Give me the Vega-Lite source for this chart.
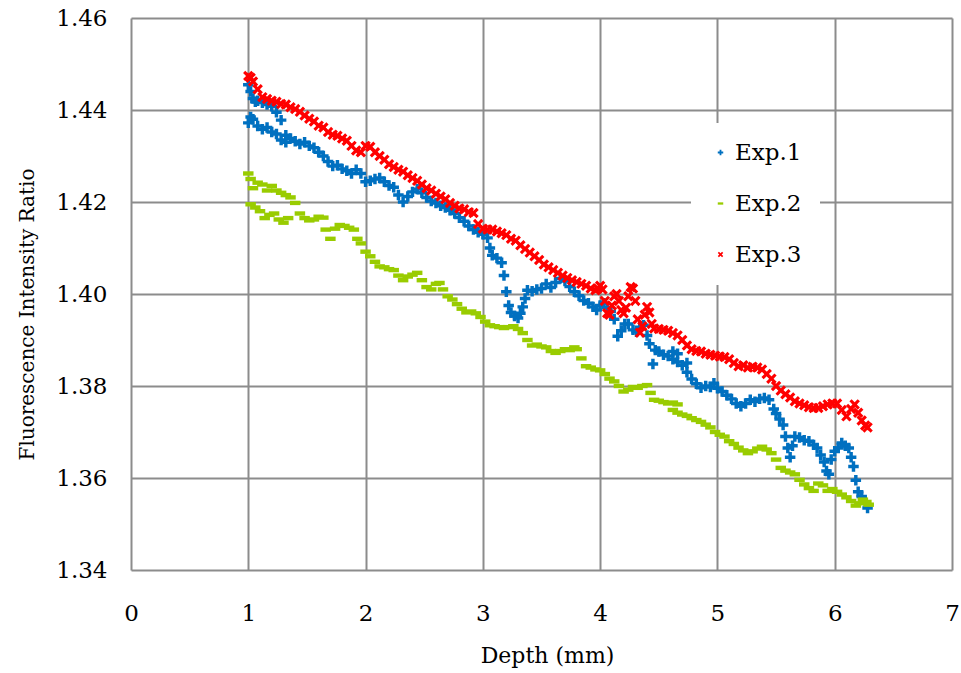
{
"$schema": "https://vega.github.io/schema/vega-lite/v6.json",
"width": 821, "height": 552,
"autosize": {"type": "none"},
"padding": {"left": 131, "top": 18, "right": 9, "bottom": 103},
"background": "white",
"config": {"view": {"stroke": null}, "font": "DejaVu Serif"},
"data": {"values": [
{"s":"Exp.1","x":1.00,"y":1.4455},{"s":"Exp.1","x":1.00,"y":1.4372},{"s":"Exp.1","x":1.02,"y":1.4440},{"s":"Exp.1","x":1.02,"y":1.4385},{"s":"Exp.1","x":1.04,"y":1.4425},{"s":"Exp.1","x":1.04,"y":1.4380},{"s":"Exp.1","x":1.06,"y":1.4418},{"s":"Exp.1","x":1.08,"y":1.4365},{"s":"Exp.1","x":1.08,"y":1.4420},{"s":"Exp.1","x":1.12,"y":1.4416},{"s":"Exp.1","x":1.12,"y":1.4358},{"s":"Exp.1","x":1.16,"y":1.4412},{"s":"Exp.1","x":1.16,"y":1.4362},{"s":"Exp.1","x":1.20,"y":1.4408},{"s":"Exp.1","x":1.20,"y":1.4352},{"s":"Exp.1","x":1.24,"y":1.4395},{"s":"Exp.1","x":1.24,"y":1.4348},{"s":"Exp.1","x":1.28,"y":1.4378},{"s":"Exp.1","x":1.28,"y":1.4335},{"s":"Exp.1","x":1.32,"y":1.4345},{"s":"Exp.1","x":1.32,"y":1.4330},{"s":"Exp.1","x":1.36,"y":1.4338},{"s":"Exp.1","x":1.40,"y":1.4332},{"s":"Exp.1","x":1.44,"y":1.4326},{"s":"Exp.1","x":1.48,"y":1.4330},{"s":"Exp.1","x":1.52,"y":1.4322},{"s":"Exp.1","x":1.56,"y":1.4318},{"s":"Exp.1","x":1.60,"y":1.4308},{"s":"Exp.1","x":1.64,"y":1.4300},{"s":"Exp.1","x":1.68,"y":1.4288},{"s":"Exp.1","x":1.72,"y":1.4278},{"s":"Exp.1","x":1.76,"y":1.4280},{"s":"Exp.1","x":1.80,"y":1.4272},{"s":"Exp.1","x":1.84,"y":1.4268},{"s":"Exp.1","x":1.88,"y":1.4262},{"s":"Exp.1","x":1.92,"y":1.4270},{"s":"Exp.1","x":1.96,"y":1.4262},{"s":"Exp.1","x":2.00,"y":1.4244},{"s":"Exp.1","x":2.04,"y":1.4246},{"s":"Exp.1","x":2.08,"y":1.4250},{"s":"Exp.1","x":2.12,"y":1.4252},{"s":"Exp.1","x":2.16,"y":1.4244},{"s":"Exp.1","x":2.20,"y":1.4236},{"s":"Exp.1","x":2.24,"y":1.4232},{"s":"Exp.1","x":2.28,"y":1.4215},{"s":"Exp.1","x":2.32,"y":1.4200},{"s":"Exp.1","x":2.36,"y":1.4212},{"s":"Exp.1","x":2.40,"y":1.4222},{"s":"Exp.1","x":2.44,"y":1.4228},{"s":"Exp.1","x":2.48,"y":1.4220},{"s":"Exp.1","x":2.52,"y":1.4210},{"s":"Exp.1","x":2.56,"y":1.4202},{"s":"Exp.1","x":2.60,"y":1.4198},{"s":"Exp.1","x":2.64,"y":1.4192},{"s":"Exp.1","x":2.68,"y":1.4188},{"s":"Exp.1","x":2.72,"y":1.4182},{"s":"Exp.1","x":2.76,"y":1.4175},{"s":"Exp.1","x":2.80,"y":1.4166},{"s":"Exp.1","x":2.84,"y":1.4158},{"s":"Exp.1","x":2.88,"y":1.4148},{"s":"Exp.1","x":2.92,"y":1.4140},{"s":"Exp.1","x":2.96,"y":1.4134},{"s":"Exp.1","x":3.00,"y":1.4130},{"s":"Exp.1","x":3.04,"y":1.4122},{"s":"Exp.1","x":3.06,"y":1.4100},{"s":"Exp.1","x":3.08,"y":1.4084},{"s":"Exp.1","x":3.12,"y":1.4078},{"s":"Exp.1","x":3.16,"y":1.4068},{"s":"Exp.1","x":3.18,"y":1.4040},{"s":"Exp.1","x":3.20,"y":1.4005},{"s":"Exp.1","x":3.22,"y":1.3975},{"s":"Exp.1","x":3.24,"y":1.3960},{"s":"Exp.1","x":3.27,"y":1.3952},{"s":"Exp.1","x":3.30,"y":1.3948},{"s":"Exp.1","x":3.32,"y":1.3958},{"s":"Exp.1","x":3.34,"y":1.3972},{"s":"Exp.1","x":3.36,"y":1.3990},{"s":"Exp.1","x":3.38,"y":1.4008},{"s":"Exp.1","x":3.42,"y":1.4006},{"s":"Exp.1","x":3.46,"y":1.4010},{"s":"Exp.1","x":3.50,"y":1.4012},{"s":"Exp.1","x":3.54,"y":1.4022},{"s":"Exp.1","x":3.58,"y":1.4014},{"s":"Exp.1","x":3.62,"y":1.4025},{"s":"Exp.1","x":3.66,"y":1.4034},{"s":"Exp.1","x":3.70,"y":1.4028},{"s":"Exp.1","x":3.74,"y":1.4016},{"s":"Exp.1","x":3.78,"y":1.4005},{"s":"Exp.1","x":3.82,"y":1.3996},{"s":"Exp.1","x":3.86,"y":1.3986},{"s":"Exp.1","x":3.90,"y":1.3980},{"s":"Exp.1","x":3.94,"y":1.3972},{"s":"Exp.1","x":3.97,"y":1.3965},{"s":"Exp.1","x":4.00,"y":1.3975},{"s":"Exp.1","x":4.03,"y":1.3980},{"s":"Exp.1","x":4.06,"y":1.3970},{"s":"Exp.1","x":4.09,"y":1.3962},{"s":"Exp.1","x":4.12,"y":1.3945},{"s":"Exp.1","x":4.15,"y":1.3908},{"s":"Exp.1","x":4.18,"y":1.3920},{"s":"Exp.1","x":4.21,"y":1.3935},{"s":"Exp.1","x":4.24,"y":1.3935},{"s":"Exp.1","x":4.28,"y":1.3922},{"s":"Exp.1","x":4.31,"y":1.3918},{"s":"Exp.1","x":4.34,"y":1.3928},{"s":"Exp.1","x":4.37,"y":1.3932},{"s":"Exp.1","x":4.40,"y":1.3910},{"s":"Exp.1","x":4.42,"y":1.3892},{"s":"Exp.1","x":4.45,"y":1.3848},{"s":"Exp.1","x":4.47,"y":1.3878},{"s":"Exp.1","x":4.50,"y":1.3875},{"s":"Exp.1","x":4.54,"y":1.3868},{"s":"Exp.1","x":4.58,"y":1.3865},{"s":"Exp.1","x":4.62,"y":1.3858},{"s":"Exp.1","x":4.62,"y":1.3875},{"s":"Exp.1","x":4.66,"y":1.3852},{"s":"Exp.1","x":4.66,"y":1.3870},{"s":"Exp.1","x":4.70,"y":1.3845},{"s":"Exp.1","x":4.74,"y":1.3830},{"s":"Exp.1","x":4.74,"y":1.3850},{"s":"Exp.1","x":4.78,"y":1.3815},{"s":"Exp.1","x":4.82,"y":1.3805},{"s":"Exp.1","x":4.86,"y":1.3796},{"s":"Exp.1","x":4.90,"y":1.3800},{"s":"Exp.1","x":4.94,"y":1.3798},{"s":"Exp.1","x":4.97,"y":1.3806},{"s":"Exp.1","x":5.00,"y":1.3795},{"s":"Exp.1","x":5.04,"y":1.3788},{"s":"Exp.1","x":5.08,"y":1.3780},{"s":"Exp.1","x":5.12,"y":1.3772},{"s":"Exp.1","x":5.16,"y":1.3762},{"s":"Exp.1","x":5.20,"y":1.3756},{"s":"Exp.1","x":5.24,"y":1.3762},{"s":"Exp.1","x":5.28,"y":1.3770},{"s":"Exp.1","x":5.32,"y":1.3766},{"s":"Exp.1","x":5.36,"y":1.3772},{"s":"Exp.1","x":5.40,"y":1.3774},{"s":"Exp.1","x":5.44,"y":1.3770},{"s":"Exp.1","x":5.48,"y":1.3750},{"s":"Exp.1","x":5.50,"y":1.3740},{"s":"Exp.1","x":5.53,"y":1.3728},{"s":"Exp.1","x":5.56,"y":1.3715},{"s":"Exp.1","x":5.58,"y":1.3690},{"s":"Exp.1","x":5.60,"y":1.3665},{"s":"Exp.1","x":5.62,"y":1.3645},{"s":"Exp.1","x":5.64,"y":1.3670},{"s":"Exp.1","x":5.66,"y":1.3690},{"s":"Exp.1","x":5.70,"y":1.3688},{"s":"Exp.1","x":5.74,"y":1.3682},{"s":"Exp.1","x":5.78,"y":1.3680},{"s":"Exp.1","x":5.82,"y":1.3672},{"s":"Exp.1","x":5.85,"y":1.3665},{"s":"Exp.1","x":5.88,"y":1.3650},{"s":"Exp.1","x":5.91,"y":1.3635},{"s":"Exp.1","x":5.93,"y":1.3615},{"s":"Exp.1","x":5.95,"y":1.3608},{"s":"Exp.1","x":5.97,"y":1.3640},{"s":"Exp.1","x":6.00,"y":1.3658},{"s":"Exp.1","x":6.03,"y":1.3665},{"s":"Exp.1","x":6.06,"y":1.3676},{"s":"Exp.1","x":6.09,"y":1.3670},{"s":"Exp.1","x":6.12,"y":1.3665},{"s":"Exp.1","x":6.14,"y":1.3645},{"s":"Exp.1","x":6.16,"y":1.3625},{"s":"Exp.1","x":6.18,"y":1.3595},{"s":"Exp.1","x":6.20,"y":1.3570},{"s":"Exp.1","x":6.23,"y":1.3560},{"s":"Exp.1","x":6.26,"y":1.3548},{"s":"Exp.1","x":6.28,"y":1.3535},
{"s":"Exp.2","x":1.00,"y":1.4262},{"s":"Exp.2","x":1.02,"y":1.4250},{"s":"Exp.2","x":1.02,"y":1.4195},{"s":"Exp.2","x":1.04,"y":1.4230},{"s":"Exp.2","x":1.06,"y":1.4188},{"s":"Exp.2","x":1.08,"y":1.4242},{"s":"Exp.2","x":1.10,"y":1.4180},{"s":"Exp.2","x":1.12,"y":1.4238},{"s":"Exp.2","x":1.14,"y":1.4165},{"s":"Exp.2","x":1.16,"y":1.4225},{"s":"Exp.2","x":1.18,"y":1.4172},{"s":"Exp.2","x":1.20,"y":1.4235},{"s":"Exp.2","x":1.22,"y":1.4175},{"s":"Exp.2","x":1.24,"y":1.4225},{"s":"Exp.2","x":1.26,"y":1.4162},{"s":"Exp.2","x":1.28,"y":1.4220},{"s":"Exp.2","x":1.30,"y":1.4155},{"s":"Exp.2","x":1.32,"y":1.4215},{"s":"Exp.2","x":1.34,"y":1.4165},{"s":"Exp.2","x":1.36,"y":1.4210},{"s":"Exp.2","x":1.40,"y":1.4198},{"s":"Exp.2","x":1.44,"y":1.4175},{"s":"Exp.2","x":1.48,"y":1.4165},{"s":"Exp.2","x":1.52,"y":1.4160},{"s":"Exp.2","x":1.56,"y":1.4162},{"s":"Exp.2","x":1.60,"y":1.4168},{"s":"Exp.2","x":1.64,"y":1.4166},{"s":"Exp.2","x":1.66,"y":1.4140},{"s":"Exp.2","x":1.70,"y":1.4120},{"s":"Exp.2","x":1.74,"y":1.4142},{"s":"Exp.2","x":1.78,"y":1.4150},{"s":"Exp.2","x":1.82,"y":1.4148},{"s":"Exp.2","x":1.86,"y":1.4144},{"s":"Exp.2","x":1.90,"y":1.4140},{"s":"Exp.2","x":1.93,"y":1.4120},{"s":"Exp.2","x":1.96,"y":1.4110},{"s":"Exp.2","x":2.00,"y":1.4092},{"s":"Exp.2","x":2.04,"y":1.4082},{"s":"Exp.2","x":2.08,"y":1.4070},{"s":"Exp.2","x":2.12,"y":1.4060},{"s":"Exp.2","x":2.16,"y":1.4058},{"s":"Exp.2","x":2.20,"y":1.4054},{"s":"Exp.2","x":2.24,"y":1.4052},{"s":"Exp.2","x":2.28,"y":1.4040},{"s":"Exp.2","x":2.32,"y":1.4030},{"s":"Exp.2","x":2.36,"y":1.4038},{"s":"Exp.2","x":2.40,"y":1.4042},{"s":"Exp.2","x":2.44,"y":1.4046},{"s":"Exp.2","x":2.48,"y":1.4030},{"s":"Exp.2","x":2.52,"y":1.4015},{"s":"Exp.2","x":2.56,"y":1.4010},{"s":"Exp.2","x":2.60,"y":1.4022},{"s":"Exp.2","x":2.63,"y":1.4024},{"s":"Exp.2","x":2.66,"y":1.4010},{"s":"Exp.2","x":2.70,"y":1.3995},{"s":"Exp.2","x":2.74,"y":1.3988},{"s":"Exp.2","x":2.78,"y":1.3978},{"s":"Exp.2","x":2.82,"y":1.3968},{"s":"Exp.2","x":2.86,"y":1.3960},{"s":"Exp.2","x":2.90,"y":1.3962},{"s":"Exp.2","x":2.94,"y":1.3958},{"s":"Exp.2","x":2.98,"y":1.3950},{"s":"Exp.2","x":3.02,"y":1.3940},{"s":"Exp.2","x":3.06,"y":1.3932},{"s":"Exp.2","x":3.10,"y":1.3930},{"s":"Exp.2","x":3.14,"y":1.3928},{"s":"Exp.2","x":3.18,"y":1.3926},{"s":"Exp.2","x":3.22,"y":1.3928},{"s":"Exp.2","x":3.26,"y":1.3930},{"s":"Exp.2","x":3.30,"y":1.3924},{"s":"Exp.2","x":3.34,"y":1.3915},{"s":"Exp.2","x":3.38,"y":1.3900},{"s":"Exp.2","x":3.42,"y":1.3888},{"s":"Exp.2","x":3.46,"y":1.3890},{"s":"Exp.2","x":3.50,"y":1.3886},{"s":"Exp.2","x":3.54,"y":1.3884},{"s":"Exp.2","x":3.58,"y":1.3876},{"s":"Exp.2","x":3.62,"y":1.3872},{"s":"Exp.2","x":3.66,"y":1.3876},{"s":"Exp.2","x":3.70,"y":1.3880},{"s":"Exp.2","x":3.74,"y":1.3878},{"s":"Exp.2","x":3.78,"y":1.3884},{"s":"Exp.2","x":3.80,"y":1.3880},{"s":"Exp.2","x":3.84,"y":1.3860},{"s":"Exp.2","x":3.88,"y":1.3843},{"s":"Exp.2","x":3.92,"y":1.3840},{"s":"Exp.2","x":3.96,"y":1.3836},{"s":"Exp.2","x":4.00,"y":1.3834},{"s":"Exp.2","x":4.04,"y":1.3826},{"s":"Exp.2","x":4.08,"y":1.3816},{"s":"Exp.2","x":4.12,"y":1.3810},{"s":"Exp.2","x":4.16,"y":1.3800},{"s":"Exp.2","x":4.20,"y":1.3788},{"s":"Exp.2","x":4.24,"y":1.3792},{"s":"Exp.2","x":4.28,"y":1.3798},{"s":"Exp.2","x":4.32,"y":1.3796},{"s":"Exp.2","x":4.36,"y":1.3800},{"s":"Exp.2","x":4.40,"y":1.3802},{"s":"Exp.2","x":4.43,"y":1.3785},{"s":"Exp.2","x":4.46,"y":1.3770},{"s":"Exp.2","x":4.50,"y":1.3768},{"s":"Exp.2","x":4.54,"y":1.3765},{"s":"Exp.2","x":4.58,"y":1.3762},{"s":"Exp.2","x":4.62,"y":1.3764},{"s":"Exp.2","x":4.62,"y":1.3748},{"s":"Exp.2","x":4.66,"y":1.3760},{"s":"Exp.2","x":4.66,"y":1.3742},{"s":"Exp.2","x":4.70,"y":1.3738},{"s":"Exp.2","x":4.74,"y":1.3735},{"s":"Exp.2","x":4.78,"y":1.3730},{"s":"Exp.2","x":4.82,"y":1.3726},{"s":"Exp.2","x":4.86,"y":1.3722},{"s":"Exp.2","x":4.90,"y":1.3716},{"s":"Exp.2","x":4.94,"y":1.3710},{"s":"Exp.2","x":4.98,"y":1.3700},{"s":"Exp.2","x":5.02,"y":1.3694},{"s":"Exp.2","x":5.06,"y":1.3690},{"s":"Exp.2","x":5.10,"y":1.3680},{"s":"Exp.2","x":5.14,"y":1.3674},{"s":"Exp.2","x":5.18,"y":1.3666},{"s":"Exp.2","x":5.22,"y":1.3660},{"s":"Exp.2","x":5.26,"y":1.3654},{"s":"Exp.2","x":5.30,"y":1.3658},{"s":"Exp.2","x":5.34,"y":1.3664},{"s":"Exp.2","x":5.38,"y":1.3668},{"s":"Exp.2","x":5.42,"y":1.3662},{"s":"Exp.2","x":5.46,"y":1.3654},{"s":"Exp.2","x":5.50,"y":1.3640},{"s":"Exp.2","x":5.54,"y":1.3622},{"s":"Exp.2","x":5.58,"y":1.3616},{"s":"Exp.2","x":5.62,"y":1.3612},{"s":"Exp.2","x":5.66,"y":1.3608},{"s":"Exp.2","x":5.70,"y":1.3596},{"s":"Exp.2","x":5.74,"y":1.3586},{"s":"Exp.2","x":5.78,"y":1.3578},{"s":"Exp.2","x":5.82,"y":1.3572},{"s":"Exp.2","x":5.86,"y":1.3588},{"s":"Exp.2","x":5.90,"y":1.3584},{"s":"Exp.2","x":5.94,"y":1.3572},{"s":"Exp.2","x":5.98,"y":1.3576},{"s":"Exp.2","x":6.02,"y":1.3570},{"s":"Exp.2","x":6.06,"y":1.3564},{"s":"Exp.2","x":6.10,"y":1.3558},{"s":"Exp.2","x":6.14,"y":1.3550},{"s":"Exp.2","x":6.18,"y":1.3540},{"s":"Exp.2","x":6.21,"y":1.3545},{"s":"Exp.2","x":6.24,"y":1.3553},{"s":"Exp.2","x":6.27,"y":1.3548},{"s":"Exp.2","x":6.29,"y":1.3542},
{"s":"Exp.3","x":1.00,"y":1.4474},{"s":"Exp.3","x":1.02,"y":1.4470},{"s":"Exp.3","x":1.04,"y":1.4462},{"s":"Exp.3","x":1.08,"y":1.4445},{"s":"Exp.3","x":1.12,"y":1.4428},{"s":"Exp.3","x":1.16,"y":1.4424},{"s":"Exp.3","x":1.20,"y":1.4420},{"s":"Exp.3","x":1.24,"y":1.4418},{"s":"Exp.3","x":1.28,"y":1.4413},{"s":"Exp.3","x":1.32,"y":1.4412},{"s":"Exp.3","x":1.36,"y":1.4406},{"s":"Exp.3","x":1.40,"y":1.4402},{"s":"Exp.3","x":1.44,"y":1.4396},{"s":"Exp.3","x":1.48,"y":1.4388},{"s":"Exp.3","x":1.52,"y":1.4381},{"s":"Exp.3","x":1.56,"y":1.4375},{"s":"Exp.3","x":1.60,"y":1.4366},{"s":"Exp.3","x":1.64,"y":1.4362},{"s":"Exp.3","x":1.68,"y":1.4352},{"s":"Exp.3","x":1.72,"y":1.4346},{"s":"Exp.3","x":1.76,"y":1.4344},{"s":"Exp.3","x":1.80,"y":1.4338},{"s":"Exp.3","x":1.84,"y":1.4333},{"s":"Exp.3","x":1.88,"y":1.4322},{"s":"Exp.3","x":1.92,"y":1.4312},{"s":"Exp.3","x":1.96,"y":1.4308},{"s":"Exp.3","x":2.00,"y":1.4322},{"s":"Exp.3","x":2.04,"y":1.4320},{"s":"Exp.3","x":2.08,"y":1.4308},{"s":"Exp.3","x":2.12,"y":1.4300},{"s":"Exp.3","x":2.16,"y":1.4292},{"s":"Exp.3","x":2.20,"y":1.4282},{"s":"Exp.3","x":2.24,"y":1.4276},{"s":"Exp.3","x":2.28,"y":1.4270},{"s":"Exp.3","x":2.32,"y":1.4266},{"s":"Exp.3","x":2.36,"y":1.4258},{"s":"Exp.3","x":2.40,"y":1.4252},{"s":"Exp.3","x":2.44,"y":1.4246},{"s":"Exp.3","x":2.48,"y":1.4238},{"s":"Exp.3","x":2.52,"y":1.4230},{"s":"Exp.3","x":2.56,"y":1.4225},{"s":"Exp.3","x":2.60,"y":1.4218},{"s":"Exp.3","x":2.64,"y":1.4212},{"s":"Exp.3","x":2.68,"y":1.4206},{"s":"Exp.3","x":2.72,"y":1.4198},{"s":"Exp.3","x":2.76,"y":1.4192},{"s":"Exp.3","x":2.80,"y":1.4186},{"s":"Exp.3","x":2.84,"y":1.4184},{"s":"Exp.3","x":2.88,"y":1.4178},{"s":"Exp.3","x":2.92,"y":1.4176},{"s":"Exp.3","x":2.96,"y":1.4152},{"s":"Exp.3","x":3.00,"y":1.4142},{"s":"Exp.3","x":3.04,"y":1.4140},{"s":"Exp.3","x":3.08,"y":1.4140},{"s":"Exp.3","x":3.12,"y":1.4136},{"s":"Exp.3","x":3.16,"y":1.4132},{"s":"Exp.3","x":3.20,"y":1.4128},{"s":"Exp.3","x":3.24,"y":1.4120},{"s":"Exp.3","x":3.28,"y":1.4116},{"s":"Exp.3","x":3.32,"y":1.4106},{"s":"Exp.3","x":3.36,"y":1.4098},{"s":"Exp.3","x":3.40,"y":1.4090},{"s":"Exp.3","x":3.44,"y":1.4082},{"s":"Exp.3","x":3.48,"y":1.4074},{"s":"Exp.3","x":3.52,"y":1.4064},{"s":"Exp.3","x":3.56,"y":1.4058},{"s":"Exp.3","x":3.60,"y":1.4052},{"s":"Exp.3","x":3.64,"y":1.4046},{"s":"Exp.3","x":3.68,"y":1.4040},{"s":"Exp.3","x":3.72,"y":1.4035},{"s":"Exp.3","x":3.76,"y":1.4030},{"s":"Exp.3","x":3.80,"y":1.4026},{"s":"Exp.3","x":3.84,"y":1.4022},{"s":"Exp.3","x":3.88,"y":1.4018},{"s":"Exp.3","x":3.92,"y":1.4012},{"s":"Exp.3","x":3.96,"y":1.4008},{"s":"Exp.3","x":3.98,"y":1.4012},{"s":"Exp.3","x":4.00,"y":1.4018},{"s":"Exp.3","x":4.02,"y":1.4010},{"s":"Exp.3","x":4.04,"y":1.3985},{"s":"Exp.3","x":4.06,"y":1.3958},{"s":"Exp.3","x":4.08,"y":1.3955},{"s":"Exp.3","x":4.10,"y":1.3975},{"s":"Exp.3","x":4.12,"y":1.3995},{"s":"Exp.3","x":4.14,"y":1.4000},{"s":"Exp.3","x":4.16,"y":1.3985},{"s":"Exp.3","x":4.18,"y":1.3965},{"s":"Exp.3","x":4.20,"y":1.3958},{"s":"Exp.3","x":4.22,"y":1.3970},{"s":"Exp.3","x":4.24,"y":1.3995},{"s":"Exp.3","x":4.26,"y":1.4015},{"s":"Exp.3","x":4.28,"y":1.4012},{"s":"Exp.3","x":4.30,"y":1.3985},{"s":"Exp.3","x":4.32,"y":1.3945},{"s":"Exp.3","x":4.34,"y":1.3916},{"s":"Exp.3","x":4.36,"y":1.3930},{"s":"Exp.3","x":4.38,"y":1.3955},{"s":"Exp.3","x":4.40,"y":1.3972},{"s":"Exp.3","x":4.42,"y":1.3960},{"s":"Exp.3","x":4.44,"y":1.3935},{"s":"Exp.3","x":4.46,"y":1.3925},{"s":"Exp.3","x":4.50,"y":1.3924},{"s":"Exp.3","x":4.54,"y":1.3922},{"s":"Exp.3","x":4.58,"y":1.3920},{"s":"Exp.3","x":4.62,"y":1.3915},{"s":"Exp.3","x":4.66,"y":1.3910},{"s":"Exp.3","x":4.70,"y":1.3900},{"s":"Exp.3","x":4.74,"y":1.3888},{"s":"Exp.3","x":4.78,"y":1.3880},{"s":"Exp.3","x":4.82,"y":1.3876},{"s":"Exp.3","x":4.86,"y":1.3875},{"s":"Exp.3","x":4.90,"y":1.3870},{"s":"Exp.3","x":4.94,"y":1.3868},{"s":"Exp.3","x":4.98,"y":1.3866},{"s":"Exp.3","x":5.02,"y":1.3864},{"s":"Exp.3","x":5.06,"y":1.3863},{"s":"Exp.3","x":5.10,"y":1.3858},{"s":"Exp.3","x":5.14,"y":1.3850},{"s":"Exp.3","x":5.18,"y":1.3843},{"s":"Exp.3","x":5.22,"y":1.3845},{"s":"Exp.3","x":5.26,"y":1.3840},{"s":"Exp.3","x":5.30,"y":1.3842},{"s":"Exp.3","x":5.34,"y":1.3840},{"s":"Exp.3","x":5.38,"y":1.3836},{"s":"Exp.3","x":5.42,"y":1.3826},{"s":"Exp.3","x":5.46,"y":1.3816},{"s":"Exp.3","x":5.50,"y":1.3800},{"s":"Exp.3","x":5.54,"y":1.3790},{"s":"Exp.3","x":5.58,"y":1.3782},{"s":"Exp.3","x":5.62,"y":1.3775},{"s":"Exp.3","x":5.66,"y":1.3767},{"s":"Exp.3","x":5.70,"y":1.3762},{"s":"Exp.3","x":5.74,"y":1.3758},{"s":"Exp.3","x":5.78,"y":1.3754},{"s":"Exp.3","x":5.82,"y":1.3752},{"s":"Exp.3","x":5.86,"y":1.3752},{"s":"Exp.3","x":5.90,"y":1.3756},{"s":"Exp.3","x":5.94,"y":1.3760},{"s":"Exp.3","x":5.98,"y":1.3762},{"s":"Exp.3","x":6.02,"y":1.3762},{"s":"Exp.3","x":6.06,"y":1.3748},{"s":"Exp.3","x":6.10,"y":1.3734},{"s":"Exp.3","x":6.14,"y":1.3750},{"s":"Exp.3","x":6.17,"y":1.3760},{"s":"Exp.3","x":6.20,"y":1.3742},{"s":"Exp.3","x":6.23,"y":1.3725},{"s":"Exp.3","x":6.26,"y":1.3714},{"s":"Exp.3","x":6.28,"y":1.3710}
]},
"mark": {"type": "point", "filled": true, "opacity": 1, "size": 110, "strokeWidth": 0},
"encoding": {
  "x": {"field": "x", "type": "quantitative",
        "scale": {"domain": [0, 7], "nice": false, "zero": false},
        "axis": {"title": "Depth (mm)", "values": [0,1,2,3,4,5,6,7], "grid": true, "gridColor": "#8c8c8c", "gridWidth": 2,
                 "domain": false, "ticks": false, "labelFont": "DejaVu Serif", "labelFontSize": 23, "labelColor": "#000000",
                 "labelBaseline": "alphabetic", "labelPadding": 50, "labelFlush": false,
                 "titleFont": "DejaVu Serif", "titleFontSize": 22, "titleFontWeight": "normal", "titleColor": "#000000",
                 "titleX": 416, "titleY": 92, "titleBaseline": "alphabetic", "titleAlign": "center"}},
  "y": {"field": "y", "type": "quantitative",
        "scale": {"domain": [1.34, 1.46], "nice": false, "zero": false},
        "axis": {"title": "Fluorescence Intensity Ratio", "values": [1.34,1.36,1.38,1.40,1.42,1.44,1.46], "format": ".2f",
                 "grid": true, "gridColor": "#8c8c8c", "gridWidth": 2,
                 "domain": false, "ticks": false, "labelFont": "DejaVu Serif", "labelFontSize": 23, "labelColor": "#000000",
                 "labelPadding": 24, "labelFlush": false,
                 "titleFont": "DejaVu Serif", "titleFontSize": 20, "titleFontWeight": "normal", "titleColor": "#000000",
                 "titleX": -98, "titleY": 296, "titleAngle": 270, "titleBaseline": "alphabetic", "titleAlign": "center"}},
  "color": {"field": "s", "type": "nominal",
            "scale": {"domain": ["Exp.1", "Exp.2", "Exp.3"], "range": ["#0070C0", "#99CC00", "#FF0000"]},
            "legend": {"title": null, "orient": "none", "legendX": 560, "legendY": 105, "direction": "vertical",
                       "fillColor": "white", "padding": 18, "rowPadding": 27,
                       "labelFont": "DejaVu Serif", "labelFontSize": 23, "labelColor": "#000000", "labelOffset": 3,
                       "symbolSize": 30, "symbolStrokeWidth": 0}},
  "shape": {"field": "s", "type": "nominal",
            "scale": {"domain": ["Exp.1", "Exp.2", "Exp.3"],
                      "range": ["M-0.33,-1H0.33V-0.33H1V0.33H0.33V1H-0.33V0.33H-1V-0.33H-0.33Z",
                                "M-1,-0.42H1V0.42H-1Z",
                                "M0,-0.42L0.58,-1L1,-0.58L0.42,0L1,0.58L0.58,1L0,0.42L-0.58,1L-1,0.58L-0.42,0L-1,-0.58L-0.58,-1Z"]},
            "legend": {"title": null, "orient": "none", "legendX": 560, "legendY": 105, "direction": "vertical",
                       "fillColor": "white", "padding": 18, "rowPadding": 27,
                       "labelFont": "DejaVu Serif", "labelFontSize": 23, "labelColor": "#000000", "labelOffset": 3,
                       "symbolSize": 30, "symbolStrokeWidth": 0}}
}
}
